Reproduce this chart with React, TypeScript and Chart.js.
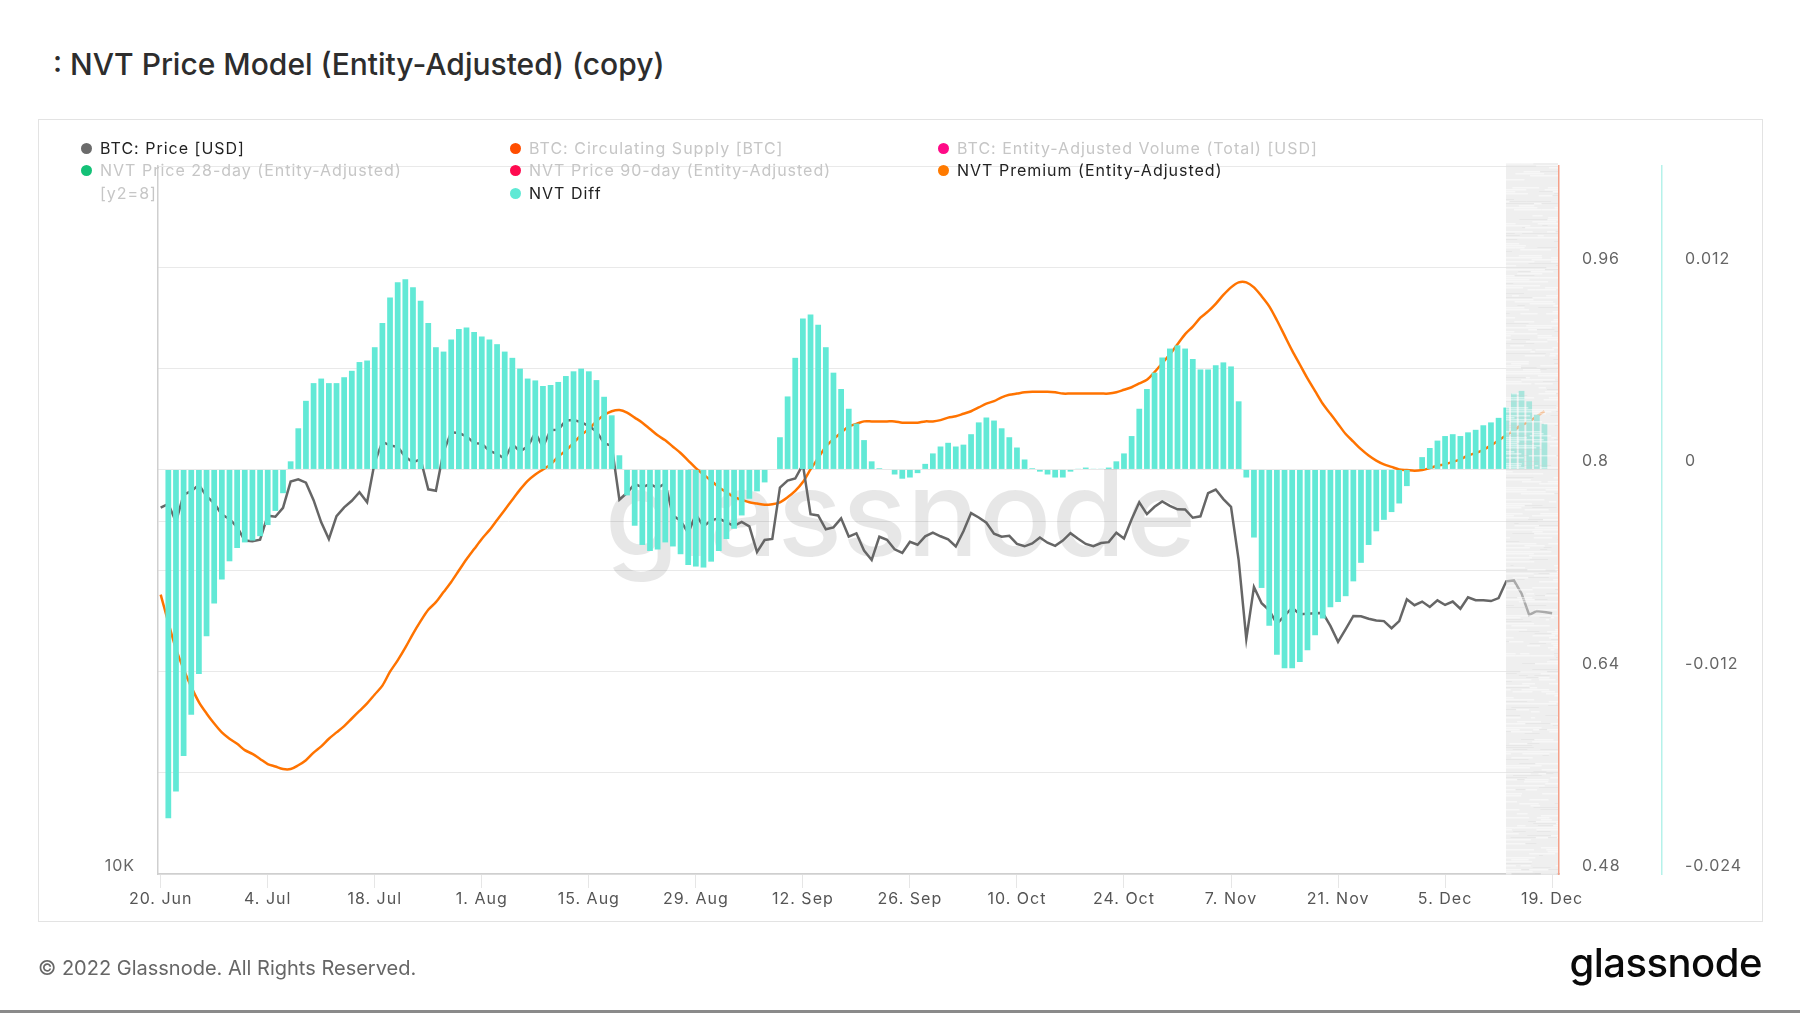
import React, { useEffect, useRef } from 'react';
import { Chart, registerables } from 'chart.js';

Chart.register(...registerables);

// ---------- data ----------
const DAY_COUNT = 183; // 20 Jun 2022 .. 19 Dec 2022
const days = Array.from({ length: DAY_COUNT }, (_, i) => i);

const xTickDays = [0, 14, 28, 42, 56, 70, 84, 98, 112, 126, 140, 154, 168, 182];
const xTickLabels = ['20. Jun', '4. Jul', '18. Jul', '1. Aug', '15. Aug', '29. Aug', '12. Sep', '26. Sep', '10. Oct', '24. Oct', '7. Nov', '21. Nov', '5. Dec', '19. Dec'];

const btcPrice = [
  20553, 20710, 19988, 21086, 21232, 21502, 21028, 20735, 20281, 20104,
  19785, 19269, 19243, 19298, 20232, 20190, 20549, 21637, 21731, 21592,
  20861, 19970, 19323, 20212, 20569, 20837, 21191, 20779, 22486, 23390,
  23232, 23164, 22715, 22467, 22610, 21310, 21253, 22952, 23842, 23804,
  23656, 23337, 23314, 22978, 22846, 22630, 23289, 22961, 23175, 23810,
  23164, 23948, 23957, 24402, 24424, 24319, 24136, 23883, 23336, 23213,
  20877, 21166, 21534, 21398, 21529, 21368, 21559, 20241, 20037, 19555,
  20285, 19811, 20050, 20127, 19969, 19832, 19986, 19812, 18837, 19290,
  19329, 21381, 21680, 21769, 22370, 20296, 20241, 19701, 19772, 20127,
  19419, 19544, 18890, 18547, 19413, 19297, 18937, 18802, 19222, 19110,
  19426, 19573, 19431, 19312, 19044, 19623, 20336, 20160, 19956, 19530,
  19417, 19446, 19141, 19051, 19157, 19382, 19185, 19067, 19268, 19550,
  19334, 19139, 19053, 19172, 19208, 19567, 19345, 20095, 20771, 20295,
  20591, 20809, 20627, 20490, 20483, 20151, 20207, 21148, 21299, 20905,
  20591, 18541, 15880, 17586, 17034, 16799, 16353, 16618, 16884, 16669,
  16688, 16698, 16712, 16291, 15787, 16189, 16611, 16602, 16521, 16464,
  16444, 16217, 16444, 17168, 16967, 17088, 16908, 17130, 16975, 17089,
  16848, 17233, 17133, 17129, 17105, 17206, 17782, 17815, 17364, 16647,
  16777, 16739, 16700,
];

const nvtPremium = [
  0.701, 0.679, 0.658, 0.642, 0.628, 0.616, 0.607, 0.599, 0.592, 0.587,
  0.583, 0.578, 0.575, 0.571, 0.567, 0.565, 0.563, 0.563, 0.566, 0.570,
  0.576, 0.581, 0.587, 0.592, 0.597, 0.603, 0.609, 0.615, 0.622, 0.629,
  0.640, 0.649, 0.659, 0.670, 0.680, 0.689, 0.695, 0.703, 0.711, 0.720,
  0.729, 0.737, 0.745, 0.752, 0.760, 0.768, 0.776, 0.784, 0.791, 0.796,
  0.800, 0.804, 0.810, 0.815, 0.821, 0.827, 0.832, 0.838, 0.843, 0.846,
  0.847, 0.845, 0.841, 0.837, 0.832, 0.827, 0.823, 0.818, 0.813, 0.807,
  0.801, 0.796, 0.791, 0.786, 0.782, 0.778, 0.776, 0.774, 0.773, 0.772,
  0.7725, 0.774, 0.778, 0.783, 0.790, 0.800, 0.809, 0.818, 0.824, 0.829,
  0.834, 0.836, 0.838, 0.838, 0.838, 0.838, 0.838, 0.837, 0.837, 0.837,
  0.838, 0.838, 0.839, 0.841, 0.842, 0.844, 0.846, 0.849, 0.852, 0.854,
  0.857, 0.859, 0.860, 0.861, 0.8615, 0.8615, 0.8615, 0.861, 0.860, 0.860,
  0.860, 0.860, 0.860, 0.860, 0.860, 0.861, 0.863, 0.865, 0.868, 0.871,
  0.877, 0.884, 0.891, 0.899, 0.907, 0.913, 0.920, 0.925, 0.931, 0.938,
  0.944, 0.948, 0.948, 0.944, 0.937, 0.929, 0.918, 0.906, 0.894, 0.883,
  0.872, 0.862, 0.852, 0.844, 0.836, 0.828, 0.822, 0.816, 0.811, 0.807,
  0.804, 0.802, 0.800, 0.7995, 0.799, 0.7995, 0.801, 0.803, 0.804, 0.806,
  0.808, 0.811, 0.813, 0.8155, 0.819, 0.823, 0.827, 0.831, 0.835, 0.838,
  0.842, 0.846, null,
];

const nvtDiff = [
  null, -0.0207, -0.0191, -0.0170, -0.01455, -0.01213, -0.00989, -0.00796, -0.00653, -0.00545,
  -0.00466, -0.00433, -0.00422, -0.00396, -0.0033, -0.00246, -0.00141, 0.00048, 0.00244, 0.00407,
  0.00512, 0.00539, 0.00512, 0.00512, 0.00547, 0.00585, 0.00637, 0.00646, 0.00725, 0.00868,
  0.0102, 0.0111, 0.01128, 0.01081, 0.0100, 0.00868, 0.00725, 0.00699, 0.00771, 0.00833,
  0.00842, 0.00815, 0.00789, 0.00771, 0.00743, 0.00699, 0.00662, 0.00598, 0.00539, 0.00528,
  0.00495, 0.00501, 0.00519, 0.00554, 0.00582, 0.00598, 0.00582, 0.0053, 0.00431, 0.00321,
  0.00084, -0.00154, -0.00334, -0.00448, -0.00484, -0.00475, -0.00433, -0.00457, -0.00503, -0.00567,
  -0.00576, -0.00582, -0.00547, -0.00484, -0.00413, -0.00352, -0.00273, -0.00174, -0.0013, -0.00077,
  0, 0.00191, 0.00433, 0.00662, 0.00895, 0.00919, 0.00859, 0.00725, 0.00574, 0.00477,
  0.0036, 0.00272, 0.00174, 0.00048, 0.00007, 0, -0.0003, -0.00055, -0.00048, -0.00022,
  0.00033, 0.00095, 0.00136, 0.00158, 0.00136, 0.00147, 0.00209, 0.00279, 0.00308, 0.0029,
  0.00244, 0.00191, 0.0013, 0.00059, 0.00007, -0.00013, -0.0003, -0.00048, -0.00048, -0.00013,
  0.00004, 0.00011, 0.00004, 0.00004, 0.00011, 0.00048, 0.00095, 0.00198, 0.0036, 0.00477,
  0.00574, 0.00664, 0.00717, 0.00736, 0.00717, 0.00655, 0.00593, 0.00593, 0.00618, 0.00635,
  0.00611, 0.00404, -0.00048, -0.00404, -0.00703, -0.00928, -0.01099, -0.0118, -0.0118, -0.01143,
  -0.01073, -0.00983, -0.00884, -0.00818, -0.00787, -0.00752, -0.00664, -0.00554, -0.00448, -0.00367,
  -0.00299, -0.00253, -0.00202, -0.00099, 0, 0.00073, 0.00127, 0.00171, 0.00198, 0.00209,
  0.00198, 0.0022, 0.00235, 0.00262, 0.00279, 0.00306, 0.00367, 0.00451, 0.00466, 0.00404,
  0.00325, 0.0027, null,
];

const priceTickValues = [10000, 20000];
const priceTickLabels = ['10K', ''];
const premiumTickValues = [0.48, 0.56, 0.64, 0.72, 0.8, 0.88, 0.96, 1.04];
const premiumTickLabels = ['0.48', '', '0.64', '', '0.8', '', '0.96', ''];
const diffTickValues = [-0.024, -0.012, 0, 0.012];
const diffTickLabels = ['-0.024', '-0.012', '0', '0.012'];

const shadeStartDay = 175.95;

const legendLabels = [
  'BTC: Price [USD]',
  'BTC: Circulating Supply [BTC]',
  'BTC: Entity-Adjusted Volume (Total) [USD]',
  'NVT Price 28-day (Entity-Adjusted)',
  'NVT Price 90-day (Entity-Adjusted)',
  'NVT Premium (Entity-Adjusted)',
  'NVT Diff',
];
const legendColors = ['#6b6b6b', '#ff4d00', '#ff0a87', '#14c177', '#ff0a4f', '#ff7a00', '#5fe9d5'];
const legendActive = [true, false, false, false, false, true, true];

// ---------- layout / style ----------
const legendCols = [100, 529, 957];
const legendRows = [148, 170, 193];
const legendSlots = [[0, 0], [1, 0], [2, 0], [0, 1], [1, 1], [2, 1], [1, 2]];

const FONT = 'Inter, "Noto Sans", sans-serif';
const PRICE_COLOR = '#666666';
const PREMIUM_COLOR = '#ff7300';
const DIFF_COLOR = '#62e9d6';

function hash(n: number) {
  const x = Math.sin(n * 12.9898 + 78.233) * 43758.5453;
  return x - Math.floor(x);
}

export default function App() {
  const canvasRef = useRef<HTMLCanvasElement | null>(null);

  useEffect(() => {
    document.body.style.margin = '0';
    const canvas = canvasRef.current;
    if (!canvas) return;

    const spacingPlugin = {
      id: 'spacing',
      beforeDraw(chart: any) {
        chart.ctx.letterSpacing = '1px';
      },
      afterDraw(chart: any) {
        chart.ctx.letterSpacing = '0px';
      },
    };

    const watermarkPlugin = {
      id: 'watermark',
      beforeDatasetsDraw(chart: any) {
        const { ctx, chartArea } = chart;
        ctx.save();
        ctx.letterSpacing = '0px';
        ctx.font = `500 120px ${FONT}`;
        ctx.fillStyle = 'rgba(0,0,0,0.095)';
        ctx.textAlign = 'center';
        ctx.textBaseline = 'alphabetic';
        const x = chartArea.left + (chartArea.right - chartArea.left) * 0.53;
        const y = chartArea.top + (chartArea.bottom - chartArea.top) * 0.551;
        ctx.fillText('glassnode', x, y);
        ctx.restore();
      },
    };

    const shadePlugin = {
      id: 'shade',
      afterDatasetsDraw(chart: any) {
        const { ctx, chartArea, scales } = chart;
        const x0 = Math.round(scales.x.getPixelForValue(shadeStartDay));
        const x1 = chartArea.right - 1;
        const y0 = chartArea.top - 3;
        const y1 = chartArea.bottom;
        ctx.save();
        ctx.fillStyle = 'rgba(226,226,226,0.55)';
        ctx.fillRect(x0, y0, x1 - x0, y1 - y0);
        let row = 0;
        for (let y = y0; y < y1; y += 2) {
          let x = x0;
          let k = 0;
          while (x < x1) {
            const r = hash(row * 131 + k * 17);
            const len = 3 + hash(row * 7 + k * 29 + 3) * 26;
            const w = Math.min(len, x1 - x);
            if (r < 0.3) {
              ctx.fillStyle = 'rgba(255,255,255,0.5)';
              ctx.fillRect(x, y, w, 1.5);
            } else if (r > 0.88) {
              ctx.fillStyle = 'rgba(205,205,205,0.22)';
              ctx.fillRect(x, y, w, 1);
            }
            x += len;
            k++;
          }
          row++;
        }
        ctx.restore();
      },
    };

    const tickFont = { family: FONT, size: 16 };

    const chart = new Chart(canvas, {
      type: 'line',
      data: {
        datasets: [
          {
            type: 'bar',
            label: 'NVT Diff',
            data: days.map((d, i) => ({ x: d, y: nvtDiff[i] })),
            yAxisID: 'y2',
            xAxisID: 'x',
            backgroundColor: DIFF_COLOR,
            borderWidth: 0,
            barPercentage: 0.75,
            categoryPercentage: 1,
            order: 0,
          } as any,
          {
            type: 'line',
            label: 'BTC: Price [USD]',
            data: days.map((d, i) => ({ x: d, y: btcPrice[i] })),
            yAxisID: 'y',
            xAxisID: 'x',
            borderColor: PRICE_COLOR,
            borderWidth: 2.5,
            pointRadius: 0,
            tension: 0,
            order: 1,
          },
          {
            type: 'line',
            label: 'NVT Premium (Entity-Adjusted)',
            data: days.map((d, i) => ({ x: d, y: nvtPremium[i] })),
            yAxisID: 'y1',
            xAxisID: 'x',
            borderColor: PREMIUM_COLOR,
            borderWidth: 2.5,
            pointRadius: 0,
            tension: 0.3,
            order: 2,
          },
        ],
      },
      options: {
        responsive: false,
        animation: false,
        events: [],
        layout: { padding: { left: 0, right: 0, top: 166, bottom: 0 } },
        plugins: { legend: { display: false }, tooltip: { enabled: false } },
        scales: {
          x: {
            type: 'linear',
            position: 'bottom',
            min: -0.35,
            max: 182.9,
            offset: false,
            afterBuildTicks: (axis: any) => {
              axis.ticks = xTickDays.map((v) => ({ value: v }));
            },
            afterFit: (axis: any) => {
              axis.height = 139;
            },
            ticks: {
              autoSkip: false,
              maxRotation: 0,
              padding: 2,
              color: '#555',
              font: tickFont,
              callback: (v: any) => {
                const idx = xTickDays.indexOf(Number(v));
                return idx >= 0 ? xTickLabels[idx] : '';
              },
            },
            grid: {
              display: true,
              offset: false,
              drawOnChartArea: false,
              drawTicks: true,
              tickLength: 14,
              color: '#e6e6e6',
            },
            border: { display: true, color: '#cfcfcf', width: 1.5 },
          },
          y: {
            type: 'logarithmic',
            position: 'left',
            min: 10000,
            max: 40250,
            afterBuildTicks: (axis: any) => {
              axis.ticks = priceTickValues.map((v) => ({ value: v }));
            },
            afterFit: (axis: any) => {
              axis.width = 158;
            },
            ticks: {
              autoSkip: false,
              padding: 23,
              labelOffset: -8,
              color: '#666',
              font: tickFont,
              callback: (v: any) => {
                const idx = priceTickValues.indexOf(Number(v));
                return idx >= 0 ? priceTickLabels[idx] : '';
              },
            },
            grid: { display: true, drawOnChartArea: true, drawTicks: false, color: '#e9e9e9' },
            border: { display: true, color: '#cfcfcf', width: 1.5 },
          },
          y1: {
            type: 'linear',
            position: 'right',
            weight: 0,
            min: 0.48,
            max: 1.04,
            afterBuildTicks: (axis: any) => {
              axis.ticks = premiumTickValues.map((v) => ({ value: v }));
            },
            afterFit: (axis: any) => {
              axis.width = 103;
            },
            ticks: {
              autoSkip: false,
              padding: 23,
              labelOffset: -8,
              color: '#666',
              font: tickFont,
              callback: (v: any) => {
                const idx = premiumTickValues.findIndex((t) => Math.abs(t - Number(v)) < 1e-9);
                return idx >= 0 ? premiumTickLabels[idx] : '';
              },
            },
            grid: { display: true, drawOnChartArea: true, drawTicks: false, color: '#e9e9e9' },
            border: { display: true, color: '#f4a089', width: 1.5 },
          },
          y2: {
            type: 'linear',
            position: 'right',
            weight: 1,
            min: -0.024,
            max: 0.018,
            afterBuildTicks: (axis: any) => {
              axis.ticks = diffTickValues.map((v) => ({ value: v }));
            },
            afterFit: (axis: any) => {
              axis.width = 138;
            },
            ticks: {
              autoSkip: false,
              padding: 23,
              labelOffset: -8,
              color: '#666',
              font: tickFont,
              callback: (v: any) => {
                const idx = diffTickValues.findIndex((t) => Math.abs(t - Number(v)) < 1e-9);
                return idx >= 0 ? diffTickLabels[idx] : '';
              },
            },
            grid: { display: true, drawOnChartArea: false, drawTicks: false, color: '#ffffff' },
            border: { display: true, color: '#b5f2ea', width: 1.5 },
          },
        },
      } as any,
      plugins: [spacingPlugin, watermarkPlugin, shadePlugin],
    });

    return () => {
      chart.destroy();
    };
  }, []);

  return (
    <div
      style={{
        position: 'absolute',
        left: 0,
        top: 0,
        width: 1800,
        height: 1013,
        overflow: 'hidden',
        background: '#ffffff',
        fontFamily: FONT,
      }}
    >
      <div
        style={{
          position: 'absolute',
          left: 53,
          top: 46,
          fontSize: 30,
          lineHeight: '36px',
          fontWeight: 500,
          color: '#2d2d2d',
          whiteSpace: 'nowrap',
        }}
      >
        : NVT Price Model (Entity-Adjusted) (copy)
      </div>

      <div
        style={{
          position: 'absolute',
          left: 38,
          top: 119,
          width: 1725,
          height: 803,
          boxSizing: 'border-box',
          border: '1px solid #e3e3e3',
        }}
      />

      <canvas
        ref={canvasRef}
        width={1800}
        height={1013}
        style={{ position: 'absolute', left: 0, top: 0, width: 1800, height: 1013 }}
      />

      {legendLabels.map((label, i) => {
        const [c, r] = legendSlots[i];
        const tx = legendCols[c];
        const cy = legendRows[r];
        return (
          <React.Fragment key={label}>
            <div
              style={{
                position: 'absolute',
                left: tx - 19,
                top: cy - 5.5,
                width: 11,
                height: 11,
                borderRadius: '50%',
                background: legendColors[i],
              }}
            />
            <div
              style={{
                position: 'absolute',
                left: tx,
                top: cy - 10,
                fontSize: 16,
                lineHeight: '20px',
                letterSpacing: '1px',
                color: legendActive[i] ? '#222222' : '#c6c6c6',
                whiteSpace: 'nowrap',
              }}
            >
              {label}
            </div>
          </React.Fragment>
        );
      })}
      <div
        style={{
          position: 'absolute',
          left: legendCols[0],
          top: legendRows[2] - 10,
          fontSize: 16,
          lineHeight: '20px',
          letterSpacing: '1px',
          color: '#c6c6c6',
          whiteSpace: 'nowrap',
        }}
      >
        [y2=8]
      </div>

      <div
        style={{
          position: 'absolute',
          left: 38,
          top: 956,
          fontSize: 20,
          lineHeight: '24px',
          color: '#666666',
          whiteSpace: 'nowrap',
        }}
      >
        © 2022 Glassnode. All Rights Reserved.
      </div>
      <div
        style={{
          position: 'absolute',
          right: 38,
          top: 939,
          fontSize: 40,
          lineHeight: '48px',
          fontWeight: 500,
          color: '#0a0a0a',
          letterSpacing: '-0.5px',
          whiteSpace: 'nowrap',
        }}
      >
        glassnode
      </div>
      <div style={{ position: 'absolute', left: 0, top: 1010, width: 1800, height: 3, background: '#8a8a8a' }} />
    </div>
  );
}
